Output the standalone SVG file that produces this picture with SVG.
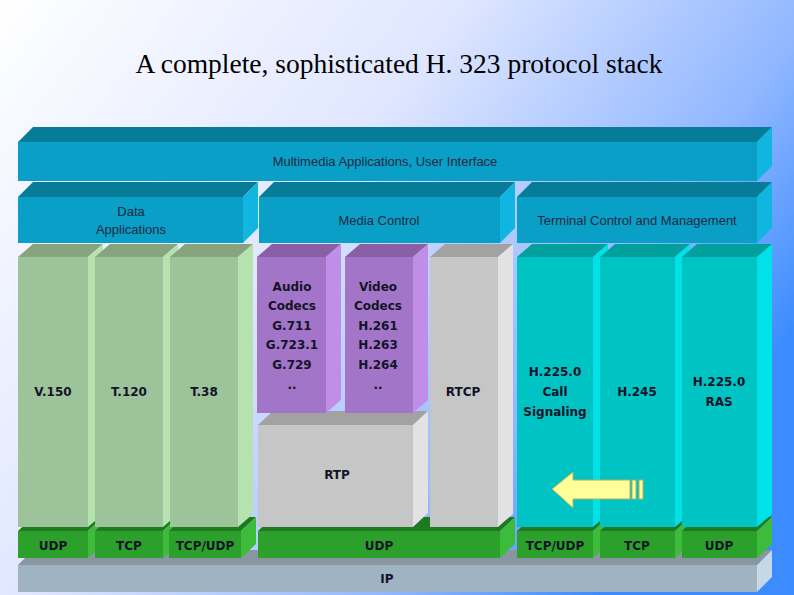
<svg xmlns="http://www.w3.org/2000/svg" width="794" height="595" viewBox="0 0 794 595">
<defs>
<linearGradient id="bg" x1="0" y1="0" x2="1" y2="0.55">
<stop offset="0" stop-color="#ffffff"/>
<stop offset="0.45" stop-color="#dfe6ff"/>
<stop offset="0.8" stop-color="#8fb6ff"/>
<stop offset="1" stop-color="#3d8cff"/>
</linearGradient>
<style>
.t{font-family:"Liberation Sans",Arial,sans-serif;font-size:13px;fill:#1c2a44;text-anchor:middle}
.b{font-family:"DejaVu Sans",Verdana,sans-serif;font-size:12px;font-weight:bold;fill:#141428;text-anchor:middle}
.title{font-family:"Liberation Serif","Times New Roman",serif;font-size:27.5px;fill:#000;text-anchor:middle}
.blueF{fill:#0a9fc6}.blueT{fill:#077c98}.blueR{fill:#10b6e0}
.grF{fill:#9dc39b}.grT{fill:#87a47f}.grR{fill:#b6e2b0}
.puF{fill:#a275c8}.puT{fill:#8a5fa6}.puR{fill:#c08ee6}
.gyF{fill:#c6c6c6}.gyT{fill:#a2a2a2}.gyR{fill:#e2e2e2}
.cyF{fill:#00c3c4}.cyT{fill:#02a09c}.cyR{fill:#00e2e8}
.gnF{fill:#2ba02b}.gnT{fill:#1e7a20}.gnR{fill:#3cbc3a}
.ipF{fill:#9fb3c3}.ipT{fill:#8995a0}.ipR{fill:#c4d8e6}
</style>
</defs>
<rect x="0" y="0" width="794" height="595" fill="url(#bg)"/>
<text class="title" x="399" y="73">A complete, sophisticated H. 323 protocol stack</text>

<g id="ip">
<polygon class="ipT" points="18,565 33,550 772,550 757,565"/>
<polygon class="ipR" points="757,565 772,550 772,577 757,592"/>
<rect class="ipF" x="18" y="565" width="739" height="27"/>
<text class="b" x="387" y="583">IP</text>
</g>

<g id="udp1">
<polygon class="gnT" points="18,531 33,517 103,517 88,531"/>
<polygon class="gnR" points="88,531 103,517 103,544 88,558"/>
<rect class="gnF" x="18" y="531" width="70" height="27"/>
<text class="b" x="53" y="550">UDP</text>
</g>
<g id="tcp1">
<polygon class="gnT" points="95,531 110,517 178,517 163,531"/>
<polygon class="gnR" points="163,531 178,517 178,544 163,558"/>
<rect class="gnF" x="95" y="531" width="68" height="27"/>
<text class="b" x="129" y="550">TCP</text>
</g>
<g id="tcpudp1">
<polygon class="gnT" points="169,531 184,517 256,517 241,531"/>
<polygon class="gnR" points="241,531 256,517 256,544 241,558"/>
<rect class="gnF" x="169" y="531" width="72" height="27"/>
<text class="b" x="205" y="550">TCP/UDP</text>
</g>
<g id="udp2">
<polygon class="gnT" points="258,531 273,517 515,517 500,531"/>
<polygon class="gnR" points="500,531 515,517 515,544 500,558"/>
<rect class="gnF" x="258" y="531" width="242" height="27"/>
<text class="b" x="379" y="550">UDP</text>
</g>
<g id="tcpudp2">
<polygon class="gnT" points="517,531 532,517 608,517 593,531"/>
<polygon class="gnR" points="593,531 608,517 608,544 593,558"/>
<rect class="gnF" x="517" y="531" width="76" height="27"/>
<text class="b" x="555" y="550">TCP/UDP</text>
</g>
<g id="tcp2">
<polygon class="gnT" points="600,531 615,517 690,517 675,531"/>
<polygon class="gnR" points="675,531 690,517 690,544 675,558"/>
<rect class="gnF" x="600" y="531" width="75" height="27"/>
<text class="b" x="637" y="550">TCP</text>
</g>
<g id="udp3">
<polygon class="gnT" points="682,531 697,517 772,517 757,531"/>
<polygon class="gnR" points="757,531 772,517 772,544 757,558"/>
<rect class="gnF" x="682" y="531" width="75" height="27"/>
<text class="b" x="719" y="550">UDP</text>
</g>

<g id="v150">
<polygon class="grT" points="18,257 33,244 103,244 88,257"/>
<polygon class="grR" points="88,257 103,244 103,514 88,527"/>
<rect class="grF" x="18" y="257" width="70" height="270"/>
<text class="b" x="53" y="396">V.150</text>
</g>
<g id="t120">
<polygon class="grT" points="95,257 110,244 178,244 163,257"/>
<polygon class="grR" points="163,257 178,244 178,514 163,527"/>
<rect class="grF" x="95" y="257" width="68" height="270"/>
<text class="b" x="129" y="396">T.120</text>
</g>
<g id="t38">
<polygon class="grT" points="170,257 185,244 253,244 238,257"/>
<polygon class="grR" points="238,257 253,244 253,514 238,527"/>
<rect class="grF" x="170" y="257" width="68" height="270"/>
<text class="b" x="204" y="396">T.38</text>
</g>

<g id="rtp">
<polygon class="gyT" points="258,425 273,411 428,411 413,425"/>
<polygon class="gyR" points="413,425 428,411 428,513 413,527"/>
<rect class="gyF" x="258" y="425" width="155" height="102"/>
<text class="b" x="337" y="479">RTP</text>
</g>
<g id="audio">
<polygon class="puT" points="257,257 272,244 341,244 326,257"/>
<polygon class="puR" points="326,257 341,244 341,400 326,413"/>
<rect class="puF" x="257" y="257" width="69" height="156"/>
<text class="b" x="292" y="291">Audio</text>
<text class="b" x="292" y="310">Codecs</text>
<text class="b" x="292" y="330">G.711</text>
<text class="b" x="292" y="349">G.723.1</text>
<text class="b" x="292" y="369">G.729</text>
<text class="b" x="292" y="389">..</text>
</g>
<g id="video">
<polygon class="puT" points="345,257 360,244 428,244 413,257"/>
<polygon class="puR" points="413,257 428,244 428,400 413,413"/>
<rect class="puF" x="345" y="257" width="68" height="156"/>
<text class="b" x="378" y="291">Video</text>
<text class="b" x="378" y="310">Codecs</text>
<text class="b" x="378" y="330">H.261</text>
<text class="b" x="378" y="349">H.263</text>
<text class="b" x="378" y="369">H.264</text>
<text class="b" x="378" y="389">..</text>
</g>
<g id="rtcp">
<polygon class="gyT" points="430,257 445,244 513,244 498,257"/>
<polygon class="gyR" points="498,257 513,244 513,514 498,527"/>
<rect class="gyF" x="430" y="257" width="68" height="270"/>
<text class="b" x="463" y="396">RTCP</text>
</g>

<g id="h225call">
<polygon class="cyT" points="517,257 532,244 608,244 593,257"/>
<polygon class="cyR" points="593,257 608,244 608,514 593,527"/>
<rect class="cyF" x="517" y="257" width="76" height="270"/>
<text class="b" x="555" y="376">H.225.0</text>
<text class="b" x="555" y="396">Call</text>
<text class="b" x="555" y="416">Signaling</text>
</g>
<g id="h245">
<polygon class="cyT" points="600,257 615,244 690,244 675,257"/>
<polygon class="cyR" points="675,257 690,244 690,514 675,527"/>
<rect class="cyF" x="600" y="257" width="75" height="270"/>
<text class="b" x="637" y="396">H.245</text>
</g>
<g id="ras">
<polygon class="cyT" points="682,257 697,244 772,244 757,257"/>
<polygon class="cyR" points="757,257 772,244 772,514 757,527"/>
<rect class="cyF" x="682" y="257" width="75" height="270"/>
<text class="b" x="719" y="386">H.225.0</text>
<text class="b" x="719" y="406">RAS</text>
</g>

<g id="data">
<polygon class="blueT" points="18,197 33,182 258,182 243,197"/>
<polygon class="blueR" points="243,197 258,182 258,228 243,243"/>
<rect class="blueF" x="18" y="197" width="225" height="46"/>
<text class="t" x="131" y="216">Data</text>
<text class="t" x="131" y="234">Applications</text>
</g>
<g id="media">
<polygon class="blueT" points="259,197 274,182 515,182 500,197"/>
<polygon class="blueR" points="500,197 515,182 515,228 500,243"/>
<rect class="blueF" x="259" y="197" width="241" height="46"/>
<text class="t" x="379" y="225">Media Control</text>
</g>
<g id="terminal">
<polygon class="blueT" points="517,197 532,182 772,182 757,197"/>
<polygon class="blueR" points="757,197 772,182 772,228 757,243"/>
<rect class="blueF" x="517" y="197" width="240" height="46"/>
<text class="t" x="637" y="225">Terminal Control and Management</text>
</g>
<g id="apps">
<polygon class="blueT" points="18,142 33,127 772,127 757,142"/>
<polygon class="blueR" points="757,142 772,127 772,166 757,181"/>
<rect class="blueF" x="18" y="142" width="739" height="39"/>
<text class="t" x="385" y="166">Multimedia Applications, User Interface</text>
</g>

<g id="arrow" stroke="#b4b060" stroke-width="1">
<polygon fill="#ffff99" points="552,489 573,472 573,480 630,480 630,499 573,499 573,508"/>
<rect x="632" y="480" width="4" height="19" fill="#ffff99"/>
<rect x="639" y="480" width="4" height="19" fill="#ffff99"/>
</g>
</svg>
